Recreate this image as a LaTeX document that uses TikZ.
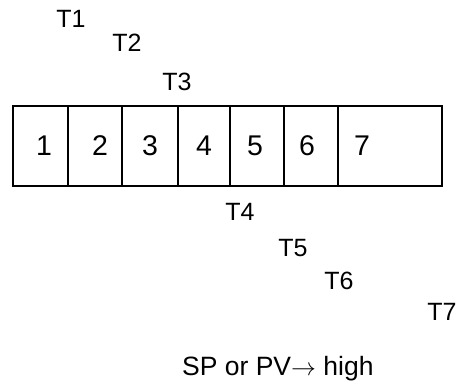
\documentclass[tikz,border=0pt]{standalone}
\usepackage{fontspec}
\setmainfont{Liberation Sans}
\begin{document}
\begin{tikzpicture}[x=1pt,y=-1pt,
  cell/.style={draw=black,line width=1.6pt,minimum height=80pt,inner sep=0pt,anchor=north west},
  digit/.style={font=\fontsize{28.5}{32}\selectfont,inner sep=0pt},
  tlabel/.style={font=\fontsize{25}{28}\selectfont,inner sep=0pt},
  note/.style={font=\fontsize{26.5}{30}\selectfont,inner sep=0pt}]
\useasboundingbox (0,0) rectangle (464,387);
\node[cell,minimum width=55pt] (c1) at (12,105) {};
\node[cell,minimum width=54pt] (c2) at (67,105) {};
\node[cell,minimum width=56pt] (c3) at (121,105) {};
\node[cell,minimum width=52pt] (c4) at (177,105) {};
\node[cell,minimum width=54pt] (c5) at (229,105) {};
\node[cell,minimum width=54pt] (c6) at (283,105) {};
\node[cell,minimum width=104pt] (c7) at (337,105) {};
\node[digit] (d1) at (44,146) {1};
\node[digit] (d2) at (100,146) {2};
\node[digit] (d3) at (150,146) {3};
\node[digit] (d4) at (204,146) {4};
\node[digit] (d5) at (255,146) {5};
\node[digit] (d6) at (307,146) {6};
\node[digit] (d7) at (362,146) {7};
\node[tlabel] (t1) at (71,18.5) {T1};
\node[tlabel] (t2) at (127,43) {T2};
\node[tlabel] (t3) at (177,81.5) {T3};
\node[tlabel] (t4) at (240,211.5) {T4};
\node[tlabel] (t5) at (293,248) {T5};
\node[tlabel] (t6) at (339,281) {T6};
\node[tlabel] (t7) at (442,312) {T7};
\node[note,anchor=base west] (sp) at (182,376) {SP or PV$\rightarrow$ high};
\end{tikzpicture}
\end{document}
